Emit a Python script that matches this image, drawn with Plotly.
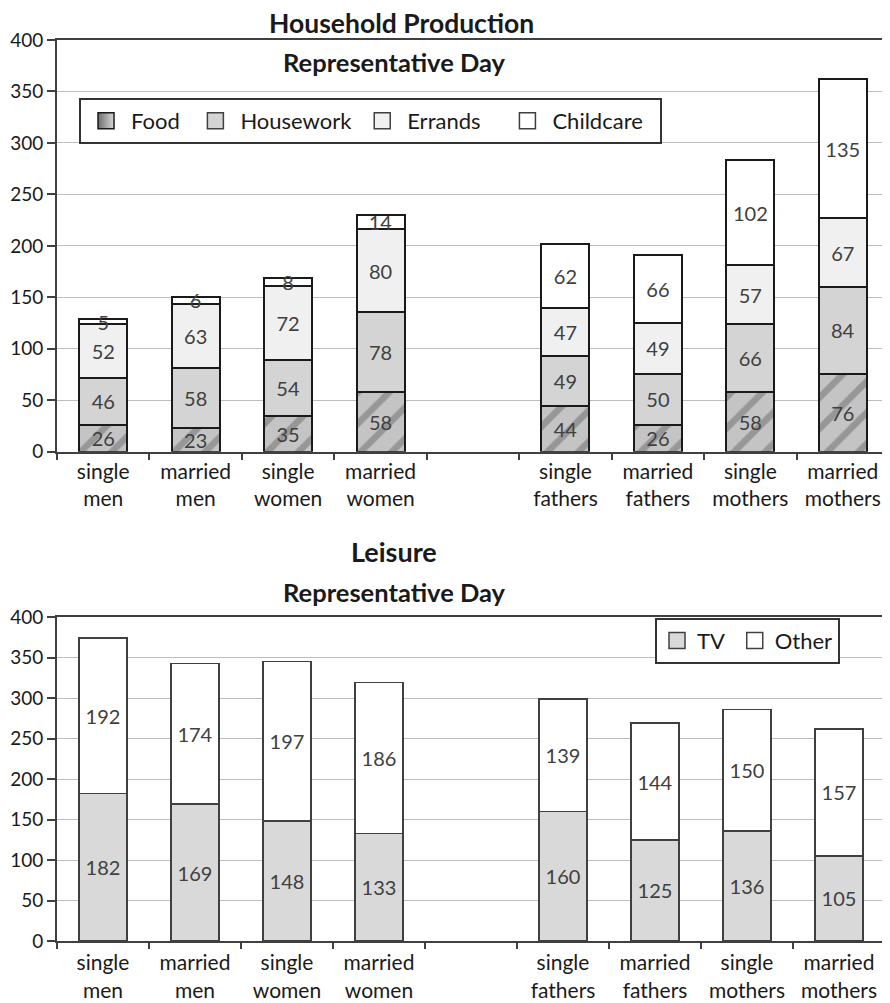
import plotly.graph_objects as go

categories = ["single<br>men", "married<br>men", "single<br>women", "married<br>women", " ",
              "single<br>fathers", "married<br>fathers", "single<br>mothers", "married<br>mothers"]

food = [26, 23, 35, 58, None, 44, 26, 58, 76]
housework = [46, 58, 54, 78, None, 49, 50, 66, 84]
errands = [52, 63, 72, 80, None, 47, 49, 57, 67]
childcare = [5, 6, 8, 14, None, 62, 66, 102, 135]

tv = [182, 169, 148, 133, None, 160, 125, 136, 105]
other = [192, 174, 197, 186, None, 139, 144, 150, 157]

y_ticks = [0, 50, 100, 150, 200, 250, 300, 350, 400]

# page offset (browser body margin)
OFF = 8
W, H = 890, 1003
ML = 57 - OFF
MT = 40 - OFF
MR = W - (889 - OFF)
MB = H - (941.5 - OFF)
PW = W - ML - MR
PH = H - MT - MB


def px_x(x):
    return (x - OFF - ML) / PW


def px_y(y):
    return 1 - (y - OFF - MT) / PH


def clamp(v):
    return min(1.0, max(0.0, v))


FONT = "Lato"
TXT = "#404040"
DARK = "#1a1a1a"
NB = "\u00a0"

fig = go.Figure()


def seg(name, vals, color, xa, ya, lw, lc, pattern=None):
    marker = dict(color=color, line=dict(color=lc, width=lw))
    if pattern:
        marker["pattern"] = pattern
    fig.add_trace(go.Bar(
        name=name, x=categories, y=vals, xaxis=xa, yaxis=ya, showlegend=False,
        marker=marker, width=0.52,
        text=[("" if v is None else str(v)) for v in vals],
        textposition="inside", insidetextanchor="middle", constraintext="none",
        textangle=0,
        textfont=dict(family=FONT, size=20, color=TXT),
        cliponaxis=False, hoverinfo="skip",
    ))


def legend_item(name, color, legend, xa, ya, lc, lw, gradient=None):
    marker = dict(symbol="square", size=16, color=color, line=dict(color=lc, width=lw))
    if gradient:
        marker["gradient"] = gradient
    fig.add_trace(go.Scatter(
        name=name, x=[None], y=[None], xaxis=xa, yaxis=ya, mode="markers",
        marker=marker, legend=legend, showlegend=True, hoverinfo="skip",
    ))


seg("Food", food, "#b8b8b8", "x", "y", 2, DARK,
    pattern=dict(shape="/", bgcolor="#c4c4c4", fgcolor="#6a6a6a", size=22, solidity=0.3))
seg("Housework", housework, "#d4d4d4", "x", "y", 2, DARK)
seg("Errands", errands, "#f0f0f0", "x", "y", 2, DARK)
seg("Childcare", childcare, "#ffffff", "x", "y", 2, DARK)

seg("TV", tv, "#d9d9d9", "x2", "y2", 1.5, "#404040")
seg("Other", other, "#ffffff", "x2", "y2", 1.5, "#404040")

legend_item("Food" + NB, "#6e6e6e", "legend", "x", "y", DARK, 1.5,
            gradient=dict(type="horizontal", color="#d8d8d8"))
legend_item("Housework", "#d4d4d4", "legend", "x", "y", "#404040", 1.5)
legend_item("Errands" + NB * 3, "#f0f0f0", "legend", "x", "y", "#404040", 1.5)
legend_item("Childcare" + NB * 2, "#ffffff", "legend", "x", "y", "#404040", 1.5)

legend_item("TV" + NB, "#d9d9d9", "legend2", "x2", "y2", "#404040", 1.5)
legend_item("Other", "#ffffff", "legend2", "x2", "y2", "#404040", 1.5)

top_dom = [clamp(px_y(452)), clamp(px_y(40))]
bot_dom = [clamp(px_y(941.5)), clamp(px_y(617.5))]

xcommon = dict(type="category", categoryorder="array", categoryarray=categories,
               range=[-0.5, 8.5], tickson="boundaries", ticks="outside", ticklen=6,
               tickwidth=1.5, tickcolor="#404040", showline=True, linecolor="#404040",
               linewidth=2, mirror=True, showgrid=False, automargin=False,
               tickfont=dict(family=FONT, size=21, color=DARK))
ycommon = dict(range=[0, 400], tickvals=y_ticks, ticks="outside", ticklen=8, tickwidth=1.5,
               tickcolor="#404040", showline=True, linecolor="#404040", linewidth=2,
               showgrid=True, gridcolor="#bdbdbd", gridwidth=1, zeroline=False,
               automargin=False, tickfont=dict(family=FONT, size=19, color=DARK))

fig.update_layout(
    width=W, height=H, barmode="stack",
    margin=dict(l=ML, r=MR, t=MT, b=MB),
    plot_bgcolor="white", paper_bgcolor="white",
    font=dict(family=FONT, size=19, color=DARK),
    xaxis=dict(domain=[0, 1], anchor="y", **xcommon),
    yaxis=dict(domain=top_dom, anchor="x", **ycommon),
    xaxis2=dict(domain=[0, clamp(px_x(885))], anchor="y2", ticklabelstandoff=2, **xcommon),
    yaxis2=dict(domain=bot_dom, anchor="x2", **ycommon),
    legend=dict(orientation="h", x=px_x(79), y=px_y(98), xanchor="left", yanchor="top",
                bordercolor="#333333", borderwidth=2, bgcolor="white", itemwidth=40,
                font=dict(family=FONT, size=22, color=DARK), traceorder="normal"),
    legend2=dict(orientation="h", x=px_x(655), y=px_y(618), xanchor="left", yanchor="top",
                 bordercolor="#333333", borderwidth=2, bgcolor="white",
                 font=dict(family=FONT, size=22, color=DARK), traceorder="normal"),
    showlegend=True,
)

titles = [("Household Production", 401, 23, 26.5), ("Representative Day", 394, 62, 25.5),
          ("Leisure", 394, 552, 27), ("Representative Day", 394, 592, 25.5)]
for t, x, y, s in titles:
    fig.add_annotation(text="<b>%s</b>" % t, xref="paper", yref="paper", x=px_x(x), y=px_y(y),
                       xanchor="center", yanchor="middle", showarrow=False,
                       font=dict(family=FONT, size=s, color=DARK))

fig.write_html("out.html")
